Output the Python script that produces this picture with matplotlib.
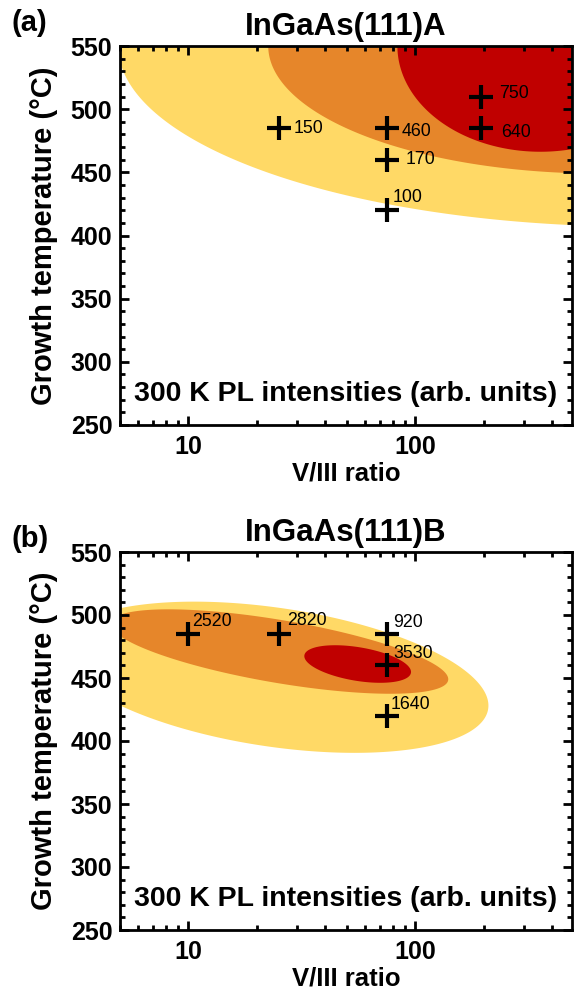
import numpy as np
import matplotlib
matplotlib.use("Agg")
import matplotlib.pyplot as plt
from matplotlib.ticker import FixedLocator, FixedFormatter, LogLocator, MultipleLocator, NullFormatter

plt.rcParams['font.family'] = ['Liberation Sans', 'DejaVu Sans']

# ---- data -------------------------------------------------------------
titles = ["InGaAs(111)A", "InGaAs(111)B"]
panel_tags = ["(a)", "(b)"]

# growth conditions (V/III ratio, growth temperature) and 300 K PL intensity
a_ratio = [25, 75, 75, 75, 195, 195]
a_temp = [485, 485, 460, 420, 510, 485]
a_pl = ["150", "460", "170", "100", "750", "640"]

b_ratio = [10, 25, 75, 75, 75]
b_temp = [485, 485, 485, 460, 420]
b_pl = ["2520", "2820", "920", "3530", "1640"]

# intensity regions: ellipses in (log10 V/III, T) space
# columns: log10 centre, T centre, log10 half-width, T half-height, phase (deg)
a_regions = [
    (2.991, 550.0, 2.30, 143.0, 90.0),
    (2.815, 550.0, 1.463, 101.0, 90.0),
    (2.551, 550.0, 0.63, 83.7, 90.0),
]
b_regions = [
    (1.379, 450.6, 0.943, 60.0, 112.0),
    (1.401, 471.0, 0.744, 33.5, 131.0),
    (1.746, 461.1, 0.235, 14.9, 115.0),
]
region_colors = ["#FFD966", "#E6862A", "#C00000"]

xtick_vals = [10, 100]
xtick_labels = ["10", "100"]
ytick_vals = [250, 300, 350, 400, 450, 500, 550]
ytick_labels = ["250", "300", "350", "400", "450", "500", "550"]

# label offsets (points) relative to each cross
a_offsets = [(10.8, 0), (10.5, -2.2), (13.7, 0), (4.3, 9.4), (12.7, 2.4), (14.4, -3.4)]
b_offsets = [(2.9, 9.1), (6.3, 9.4), (4.5, 8.4), (4.5, 8.4), (2.7, 8.4)]
tag_heights = [1.062, 1.035]


def ellipse_outline(uc, tc, au, at, phase, n=600):
    t = np.linspace(0, 2 * np.pi, n)
    u = uc + au * np.cos(t)
    T = tc + at * np.cos(t + np.radians(phase))
    return 10 ** u, T


fig = plt.figure(figsize=(5.8, 9.93), dpi=100)
ax_a = fig.add_axes([120 / 580, 1 - 425 / 993, 452 / 580, 379 / 993])
ax_b = fig.add_axes([120 / 580, 1 - 930 / 993, 452 / 580, 378 / 993])

panels = [
    (ax_a, a_regions, a_ratio, a_temp, a_pl, a_offsets),
    (ax_b, b_regions, b_ratio, b_temp, b_pl, b_offsets),
]

for i, (ax, regions, xr, yt, pl, offs) in enumerate(panels):
    ax.set_xscale('log')
    ax.set_xlim(5, 490)
    ax.set_ylim(250, 550)

    for reg, col in zip(regions, region_colors):
        ex, ey = ellipse_outline(*reg)
        ax.fill(ex, ey, color=col, lw=0, zorder=1)

    ax.plot(xr, yt, linestyle='none', marker='+', markersize=17,
            markeredgewidth=3.0, color='black', zorder=5)
    for x, y, s, (dx, dy) in zip(xr, yt, pl, offs):
        ax.annotate(s, (x, y), xytext=(dx, dy), textcoords='offset points',
                    ha='left', va='center', fontsize=12.8, zorder=6)

    ax.text(0.5, 0.083, "300 K PL intensities (arb. units)", transform=ax.transAxes,
            ha='center', va='center', fontsize=20.5, fontweight='bold', zorder=7)

    ax.xaxis.set_major_locator(FixedLocator(xtick_vals))
    ax.xaxis.set_major_formatter(FixedFormatter(xtick_labels))
    ax.xaxis.set_minor_locator(LogLocator(base=10, subs=np.arange(2, 10)))
    ax.xaxis.set_minor_formatter(NullFormatter())
    ax.yaxis.set_major_locator(FixedLocator(ytick_vals))
    ax.yaxis.set_major_formatter(FixedFormatter(ytick_labels))
    ax.yaxis.set_minor_locator(MultipleLocator(10))

    ax.tick_params(which='both', direction='in', top=True, right=True, width=2.0)
    ax.tick_params(which='major', length=6.5, labelsize=18)
    ax.tick_params(which='minor', length=3.6)
    ax.tick_params(axis='y', pad=5.5)
    ax.tick_params(axis='x', pad=7)
    for lab in ax.get_xticklabels() + ax.get_yticklabels():
        lab.set_fontweight('bold')
    for sp in ax.spines.values():
        sp.set_linewidth(2.0)
        sp.set_zorder(10)

    ax.set_xlabel("V/III ratio", fontsize=18.5, fontweight='bold', labelpad=2)
    ax.set_ylabel("Growth temperature (\u00b0C)", fontsize=21, fontweight='bold', labelpad=9)
    ax.set_title(titles[i], fontsize=22.5, fontweight='bold', pad=8)
    ax.text(-0.24, tag_heights[i], panel_tags[i], transform=ax.transAxes, ha='left',
            va='center', fontsize=21, fontweight='bold')

fig.savefig("out.png", dpi=100)
